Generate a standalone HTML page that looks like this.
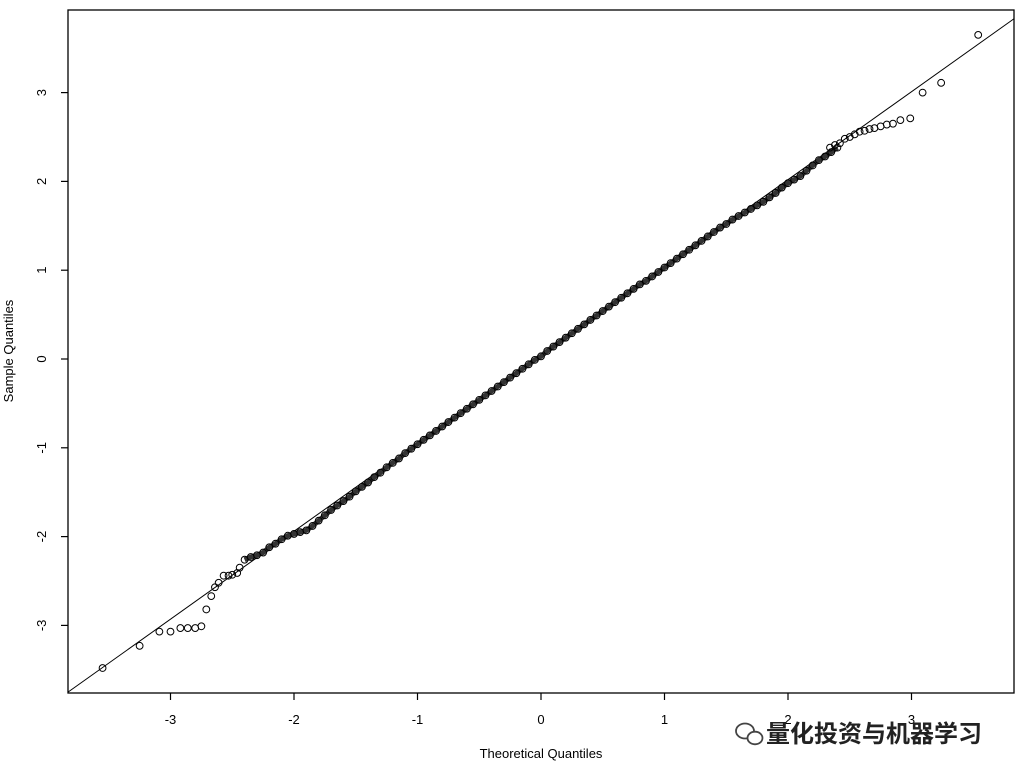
<!DOCTYPE html>
<html><head><meta charset="utf-8"><style>
html,body{margin:0;padding:0;background:#fff;}
svg{display:block;font-family:"Liberation Sans",sans-serif;}
</style></head><body>
<svg id="chart" width="1024" height="777" viewBox="0 0 1024 777">
  <rect x="0" y="0" width="1024" height="777" fill="#fff"/>
  <g id="xaxis"></g>
  <g id="yaxis"></g>
  <g id="marks"></g>
  <rect x="68" y="10" width="946" height="683" fill="none" stroke="#000" stroke-width="1.3"/>
  <text x="541" y="758" font-size="13" text-anchor="middle">Theoretical Quantiles</text>
  <text transform="translate(13,351) rotate(-90)" font-size="13" text-anchor="middle">Sample Quantiles</text>
  <g>
    <g fill="none" stroke="#444" stroke-width="1.8">
      <ellipse cx="745" cy="731" rx="9" ry="7.5"/>
      <ellipse cx="755" cy="738" rx="7.5" ry="6.3" fill="#fff"/>
    </g>
    <text x="766" y="742" font-size="24" font-weight="bold" fill="#222" font-family="'Liberation Sans','Noto Sans CJK SC',sans-serif">量化投资与机器学习</text>
  </g>
</svg>
<script>
const xTicks = [-3,-2,-1,0,1,2,3];
const yTicks = [-3,-2,-1,0,1,2,3];
const lineIntercept = 0.04;
const lineSlope = 0.99;
const midTheo = [-2.40,-2.35,-2.30,-2.25,-2.20,-2.15,-2.10,-2.05,-2.00,-1.95,-1.90,-1.85,-1.80,-1.75,-1.70,-1.65,-1.60,-1.55,-1.50,-1.45,-1.40,-1.35,-1.30,-1.25,-1.20,-1.15,-1.10,-1.05,-1.00,-0.95,-0.90,-0.85,-0.80,-0.75,-0.70,-0.65,-0.60,-0.55,-0.50,-0.45,-0.40,-0.35,-0.30,-0.25,-0.20,-0.15,-0.10,-0.05,0,0.05,0.10,0.15,0.20,0.25,0.30,0.35,0.40,0.45,0.50,0.55,0.60,0.65,0.70,0.75,0.80,0.85,0.90,0.95,1.00,1.05,1.10,1.15,1.20,1.25,1.30,1.35,1.40,1.45,1.50,1.55,1.60,1.65,1.70,1.75,1.80,1.85,1.90,1.95,2.00,2.05,2.10,2.15,2.20,2.25,2.30,2.35,2.40];
const midSample = [-2.26,-2.23,-2.21,-2.18,-2.12,-2.08,-2.03,-1.99,-1.97,-1.95,-1.93,-1.88,-1.82,-1.76,-1.70,-1.65,-1.60,-1.55,-1.49,-1.44,-1.39,-1.33,-1.28,-1.22,-1.17,-1.12,-1.06,-1.01,-0.96,-0.91,-0.86,-0.81,-0.76,-0.71,-0.66,-0.61,-0.56,-0.51,-0.46,-0.41,-0.36,-0.31,-0.26,-0.21,-0.16,-0.11,-0.06,-0.01,0.03,0.09,0.14,0.19,0.24,0.29,0.34,0.39,0.44,0.49,0.54,0.59,0.64,0.69,0.74,0.79,0.84,0.88,0.93,0.98,1.03,1.08,1.13,1.18,1.23,1.28,1.33,1.38,1.43,1.48,1.52,1.57,1.61,1.65,1.69,1.73,1.77,1.82,1.87,1.93,1.98,2.02,2.06,2.12,2.18,2.24,2.28,2.33,2.38];
const tailTheo = [-3.55,-3.25,-3.09,-3.00,-2.92,-2.86,-2.80,-2.75,-2.71,-2.67,-2.64,-2.61,-2.57,-2.53,-2.50,-2.46,-2.44,2.34,2.38,2.42,2.46,2.50,2.54,2.58,2.62,2.66,2.70,2.75,2.80,2.85,2.91,2.99,3.09,3.24,3.54];
const tailSample = [-3.48,-3.23,-3.07,-3.07,-3.03,-3.03,-3.03,-3.01,-2.82,-2.67,-2.57,-2.52,-2.44,-2.44,-2.43,-2.41,-2.35,2.38,2.41,2.43,2.48,2.50,2.53,2.56,2.57,2.59,2.60,2.62,2.64,2.65,2.69,2.71,3.00,3.11,3.65];

const NS='http://www.w3.org/2000/svg';
const X0=68,X1=1014,Y0=10,Y1=693;
function sx(v){return 541+v*123.5;}
function sy(v){return 359-v*88.8;}
function mk(tag,attrs,parent){const e=document.createElementNS(NS,tag);for(const k in attrs)e.setAttribute(k,attrs[k]);parent.appendChild(e);return e;}
const xa=document.getElementById('xaxis'),ya=document.getElementById('yaxis'),mg=document.getElementById('marks');
xTicks.forEach(t=>{
  const l=mk('line',{x1:sx(t),x2:sx(t),y1:Y1,y2:Y1+7,stroke:'#000','stroke-width':1.2},xa);
  
  
  const tx=mk('text',{x:sx(t),y:724,'font-size':13,'text-anchor':'middle'},xa);
  tx.textContent=String(t);
  
  
});
yTicks.forEach(t=>{
  const l=mk('line',{x1:X0-7,x2:X0,y1:sy(t),y2:sy(t),stroke:'#000','stroke-width':1.2},ya);
  
  
  const tx=mk('text',{transform:'translate(46,'+sy(t)+') rotate(-90)','font-size':13,'text-anchor':'middle'},ya);
  tx.textContent=String(t);
  
  
});
const xl=(X0-541)/123.5, xr=(X1-541)/123.5;
const rl=mk('line',{x1:sx(xl),y1:sy(lineIntercept+lineSlope*xl),x2:sx(xr),y2:sy(lineIntercept+lineSlope*xr),stroke:'#000','stroke-width':1},mg);


const pts=midTheo.map((t,i)=>sx(t)+','+sy(midSample[i])).join(' ');
const band=mk('polyline',{points:pts,fill:'none',stroke:'#333','stroke-width':5,'stroke-linejoin':'round'},mg);


midTheo.forEach((t,i)=>{
  const c=mk('circle',{cx:sx(t),cy:sy(midSample[i]),r:3.4,fill:'none',stroke:'#000','stroke-width':1},mg);
  
  
});
tailTheo.forEach((t,i)=>{
  const c=mk('circle',{cx:sx(t),cy:sy(tailSample[i]),r:3.4,fill:'none',stroke:'#000','stroke-width':1},mg);
  
  
});
</script>
</body></html>
